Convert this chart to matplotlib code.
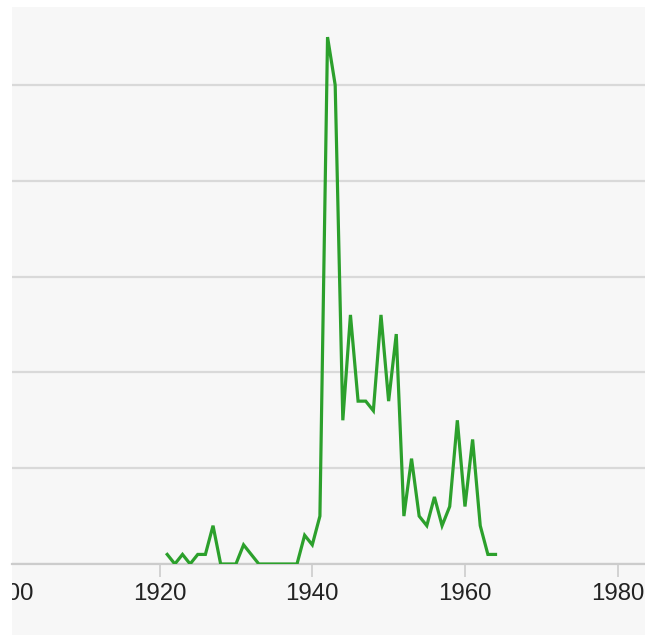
import matplotlib
matplotlib.use("Agg")
import matplotlib.pyplot as plt
from matplotlib.patches import Rectangle
from matplotlib.transforms import Bbox, TransformedBbox

years = list(range(1921, 1965))
counts = [1, 0, 1, 0, 1, 1, 4, 0, 0, 0, 2, 1, 0, 0, 0, 0, 0, 0, 3, 2,
          5, 55, 50, 15, 26, 17, 17, 16, 26, 17, 24, 5, 11, 5, 4, 7, 4, 6,
          15, 6, 13, 4, 1, 1]
x_ticks = [1920, 1940, 1960, 1980]
hidden_tick = 1900
y_grid = [0, 10, 20, 30, 40, 50]

W, H = 645, 635
fig = plt.figure(figsize=(W / 100, H / 100), dpi=100, facecolor="white")
bg = "#f7f7f7"
fig.patches.append(Rectangle((12 / W, 0), 1 - 12 / W, 1 - 7 / H,
                             transform=fig.transFigure, facecolor=bg,
                             edgecolor="none", zorder=-10))

ax = fig.add_axes([12 / W, (H - 564) / H, (W - 12) / W, (564 - 7) / H])
ax.set_facecolor(bg)
ax.plot(years, counts, color="#2ca02c", linewidth=2.3, solid_joinstyle="miter", zorder=3)

ax.set_xlim(1900.67, 1983.58)
ax.set_ylim(0, 58.14)
ax.set_xticks(x_ticks)
ax.set_xticklabels([str(t) for t in x_ticks])
ax.set_yticks(y_grid)
ax.set_yticklabels([])
ax.tick_params(axis="y", length=0)
ticklen = 9.5
pad = 4.5
ax.tick_params(axis="x", length=ticklen, width=1.2, color="#cccccc", pad=pad,
               labelsize=17.3, labelcolor="#222222")
for lab in ax.get_xticklabels():
    lab.set_family(["Liberation Sans", "DejaVu Sans"])
ax.grid(axis="y", color="#d9d9d9", linewidth=1.6)
ax.set_axisbelow(True)
for s in ["top", "left", "right"]:
    ax.spines[s].set_visible(False)
ax.spines["bottom"].set_color("#cccccc")
ax.spines["bottom"].set_linewidth(1.6)

t = ax.annotate(str(hidden_tick), xy=(hidden_tick, 0), xycoords="data",
                xytext=(0, -(ticklen + pad)), textcoords="offset points",
                ha="center", va="top", fontsize=17.3, color="#222222",
                family=["Liberation Sans", "DejaVu Sans"], annotation_clip=False)
t.set_clip_on(True)
t.set_clip_box(TransformedBbox(Bbox([[12 / W, 0], [1, 1]]), fig.transFigure))

fig.savefig("out.png", dpi=100, facecolor="white")
